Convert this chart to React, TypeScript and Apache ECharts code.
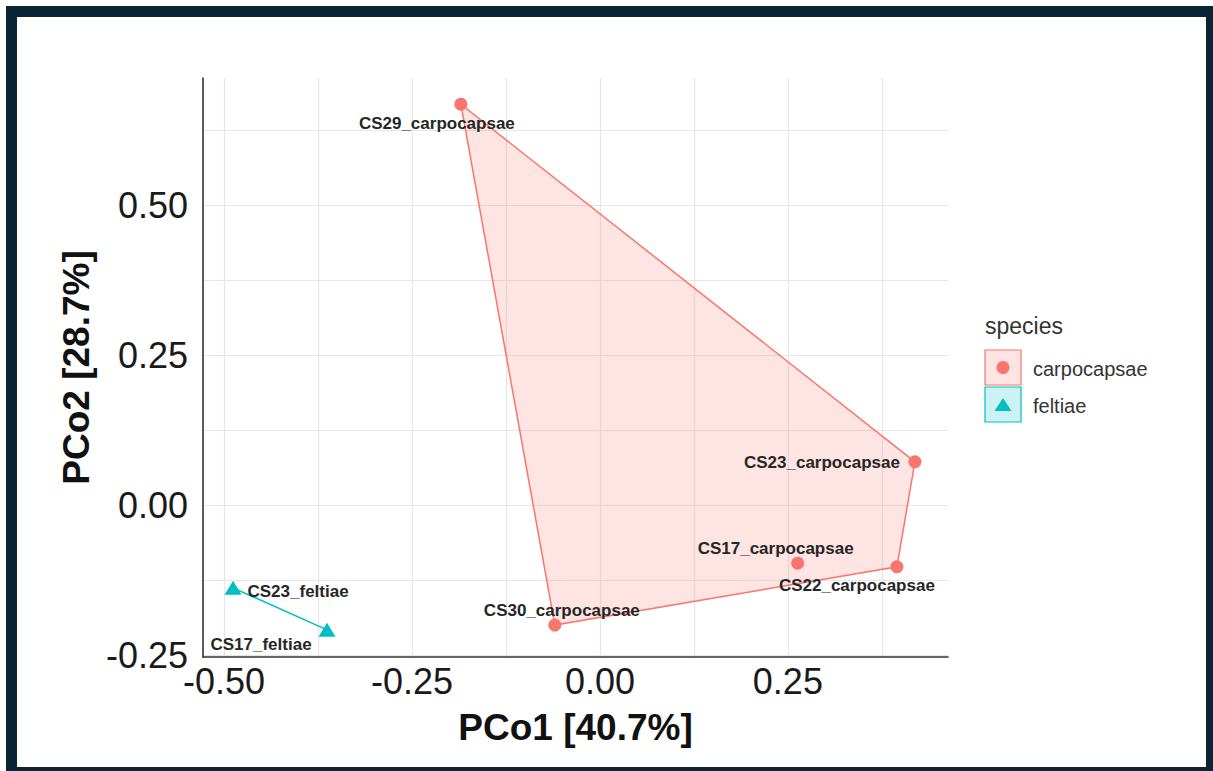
import React, { useEffect, useRef } from "react";
import * as echarts from "echarts";

// ---- data ----
const groups = ["carpocapsae", "feltiae"];
const groupColors = ["#F8766D", "#00BFC4"];
const groupFills = ["rgba(248,118,109,0.2)", "rgba(0,191,196,0.2)"];
const groupSymbols = ["circle", "triangle"];

const sampleNames = [
  "CS29_carpocapsae",
  "CS23_carpocapsae",
  "CS17_carpocapsae",
  "CS22_carpocapsae",
  "CS30_carpocapsae",
  "CS23_feltiae",
  "CS17_feltiae",
];
const sampleGroup = [
  "carpocapsae",
  "carpocapsae",
  "carpocapsae",
  "carpocapsae",
  "carpocapsae",
  "feltiae",
  "feltiae",
];
const pco1 = [-0.185, 0.419, 0.263, 0.395, -0.06, -0.488, -0.363];
const pco2 = [0.668, 0.072, -0.097, -0.103, -0.2, -0.138, -0.208];

const xTickLabels = [-0.5, -0.25, 0, 0.25];
const yTickLabels = [-0.25, 0, 0.25, 0.5];
const xGridValues = [-0.5, -0.375, -0.25, -0.125, 0, 0.125, 0.25, 0.375];
const yGridValues = [-0.25, -0.125, 0, 0.125, 0.25, 0.375, 0.5, 0.625];
const xRange = [-0.528, 0.463];
const yRange = [-0.2533, 0.7117];

const xTitle = "PCo1 [40.7%]";
const yTitle = "PCo2 [28.7%]";
const legendTitle = "species";

// label placement (pixel offsets of label centre from point)
const labelOffsets: Record<string, [number, number]> = {
  CS29_carpocapsae: [-24, 19],
  CS23_carpocapsae: [-93, 1],
  CS17_carpocapsae: [-22, -15],
  CS22_carpocapsae: [-40, 19],
  CS30_carpocapsae: [7, -15],
  CS23_feltiae: [65, 4],
  CS17_feltiae: [-66, 15],
};

function convexHull(pts: number[][]): number[][] {
  const p = pts.slice().sort((a, b) => a[0] - b[0] || a[1] - b[1]);
  if (p.length < 3) return p;
  const cross = (o: number[], a: number[], b: number[]) =>
    (a[0] - o[0]) * (b[1] - o[1]) - (a[1] - o[1]) * (b[0] - o[0]);
  const lower: number[][] = [];
  for (const q of p) {
    while (lower.length >= 2 && cross(lower[lower.length - 2], lower[lower.length - 1], q) <= 0) lower.pop();
    lower.push(q);
  }
  const upper: number[][] = [];
  for (let i = p.length - 1; i >= 0; i--) {
    const q = p[i];
    while (upper.length >= 2 && cross(upper[upper.length - 2], upper[upper.length - 1], q) <= 0) upper.pop();
    upper.push(q);
  }
  upper.pop();
  lower.pop();
  return lower.concat(upper);
}

const FONT = "'Liberation Sans', Arial, Helvetica, sans-serif";

export default function App() {
  const ref = useRef<HTMLDivElement>(null);
  useEffect(() => {
    document.body.style.margin = "0";
    if (!ref.current) return;
    const chart = echarts.init(ref.current, undefined, { renderer: "svg" });

    const series: any[] = [];
    groups.forEach((g, gi) => {
      const pts: number[][] = [];
      sampleNames.forEach((n, i) => {
        if (sampleGroup[i] === g) pts.push([pco1[i], pco2[i]]);
      });
      const hull = convexHull(pts);
      series.push({
        type: "custom",
        name: g + "_hull",
        silent: true,
        z: 1,
        data: hull,
        encode: { x: 0, y: 1 },
        renderItem: (params: any, api: any) => {
          if (params.dataIndex !== 0) return null;
          const coords = hull.map((p) => api.coord(p));
          return {
            type: "polygon",
            shape: { points: coords },
            style: { fill: groupFills[gi], stroke: groupColors[gi], lineWidth: 1.5 },
          };
        },
      });
    });
    groups.forEach((g, gi) => {
      const data: any[] = [];
      sampleNames.forEach((n, i) => {
        if (sampleGroup[i] === g)
          data.push({
            name: n,
            value: [pco1[i], pco2[i]],
            label: { offset: labelOffsets[n] || [0, 0] },
          });
      });
      series.push({
        type: "scatter",
        name: g,
        z: 3,
        silent: true,
        symbol: groupSymbols[gi],
        symbolSize: gi === 0 ? 13 : [17, 14],
        itemStyle: { color: groupColors[gi], opacity: 1 },
        label: {
          show: true,
          position: "inside",
          formatter: "{b}",
          fontSize: 17,
          fontWeight: "bold",
          fontFamily: FONT,
          color: "#262626",
          align: "center",
          verticalAlign: "middle",
        },
        data,
      });
    });

    const legendX = 985;
    const legendGraphics: any[] = [
      {
        type: "text",
        left: legendX,
        top: 314,
        style: { text: legendTitle, fontSize: 23, fontFamily: FONT, fill: "#333" },
      },
    ];
    groups.forEach((g, gi) => {
      const y0 = 350 + gi * 37;
      legendGraphics.push({
        type: "rect",
        shape: { x: legendX, y: y0, width: 36, height: 35 },
        style: { fill: groupFills[gi], stroke: groupColors[gi], lineWidth: 1.2 },
      });
      if (groupSymbols[gi] === "circle") {
        legendGraphics.push({
          type: "circle",
          shape: { cx: legendX + 18, cy: y0 + 17.5, r: 6.5 },
          style: { fill: groupColors[gi] },
        });
      } else {
        legendGraphics.push({
          type: "polygon",
          shape: {
            points: [
              [legendX + 18, y0 + 11],
              [legendX + 26.5, y0 + 24],
              [legendX + 9.5, y0 + 24],
            ],
          },
          style: { fill: groupColors[gi] },
        });
      }
      legendGraphics.push({
        type: "text",
        x: legendX + 48,
        y: y0 + 18.5,
        style: {
          text: g,
          fontSize: 20,
          fontFamily: FONT,
          fill: "#333",
          verticalAlign: "middle",
          align: "left",
        },
      });
    });

    const frame = "#0b2433";
    const frameGraphics = [
      { type: "rect", shape: { x: 6, y: 6, width: 1207, height: 11 }, style: { fill: frame } },
      { type: "rect", shape: { x: 6, y: 6, width: 11, height: 765 }, style: { fill: frame } },
      { type: "rect", shape: { x: 1206, y: 6, width: 7, height: 765 }, style: { fill: frame } },
      { type: "rect", shape: { x: 6, y: 767, width: 1207, height: 4 }, style: { fill: frame } },
    ];

    chart.setOption({
      animation: false,
      backgroundColor: "#ffffff",
      grid: { left: 203, top: 78, width: 745, height: 579, containLabel: false },
      xAxis: {
        type: "value",
        min: xRange[0],
        max: xRange[1],
        name: xTitle,
        nameLocation: "middle",
        nameGap: 52,
        nameTextStyle: { fontSize: 37, fontWeight: "bold", color: "#111", fontFamily: FONT },
        axisLine: { show: true, onZero: false, lineStyle: { color: "#333", width: 1.6 } },
        axisTick: { show: false, customValues: xGridValues },
        axisLabel: {
          customValues: xTickLabels,
          formatter: (v: number) => v.toFixed(2),
          fontSize: 36,
          color: "#1a1a1a",
          fontFamily: FONT,
          margin: 6,
        },
        splitLine: { show: true, lineStyle: { color: "#e6e6e6", width: 1.2 } },
      },
      yAxis: {
        type: "value",
        min: yRange[0],
        max: yRange[1],
        name: yTitle,
        nameLocation: "middle",
        nameGap: 100,
        nameRotate: 90,
        nameTextStyle: { fontSize: 37, fontWeight: "bold", color: "#111", fontFamily: FONT },
        axisLine: { show: true, onZero: false, lineStyle: { color: "#333", width: 1.6 } },
        axisTick: { show: false, customValues: yGridValues },
        axisLabel: {
          customValues: yTickLabels,
          formatter: (v: number) => v.toFixed(2),
          fontSize: 36,
          color: "#1a1a1a",
          fontFamily: FONT,
          margin: 15,
        },
        splitLine: { show: true, lineStyle: { color: "#e6e6e6", width: 1.2 } },
      },
      graphic: [...frameGraphics, ...legendGraphics],
      series,
    });
    return () => chart.dispose();
  }, []);
  return <div ref={ref} style={{ width: 1213, height: 771 }} />;
}
